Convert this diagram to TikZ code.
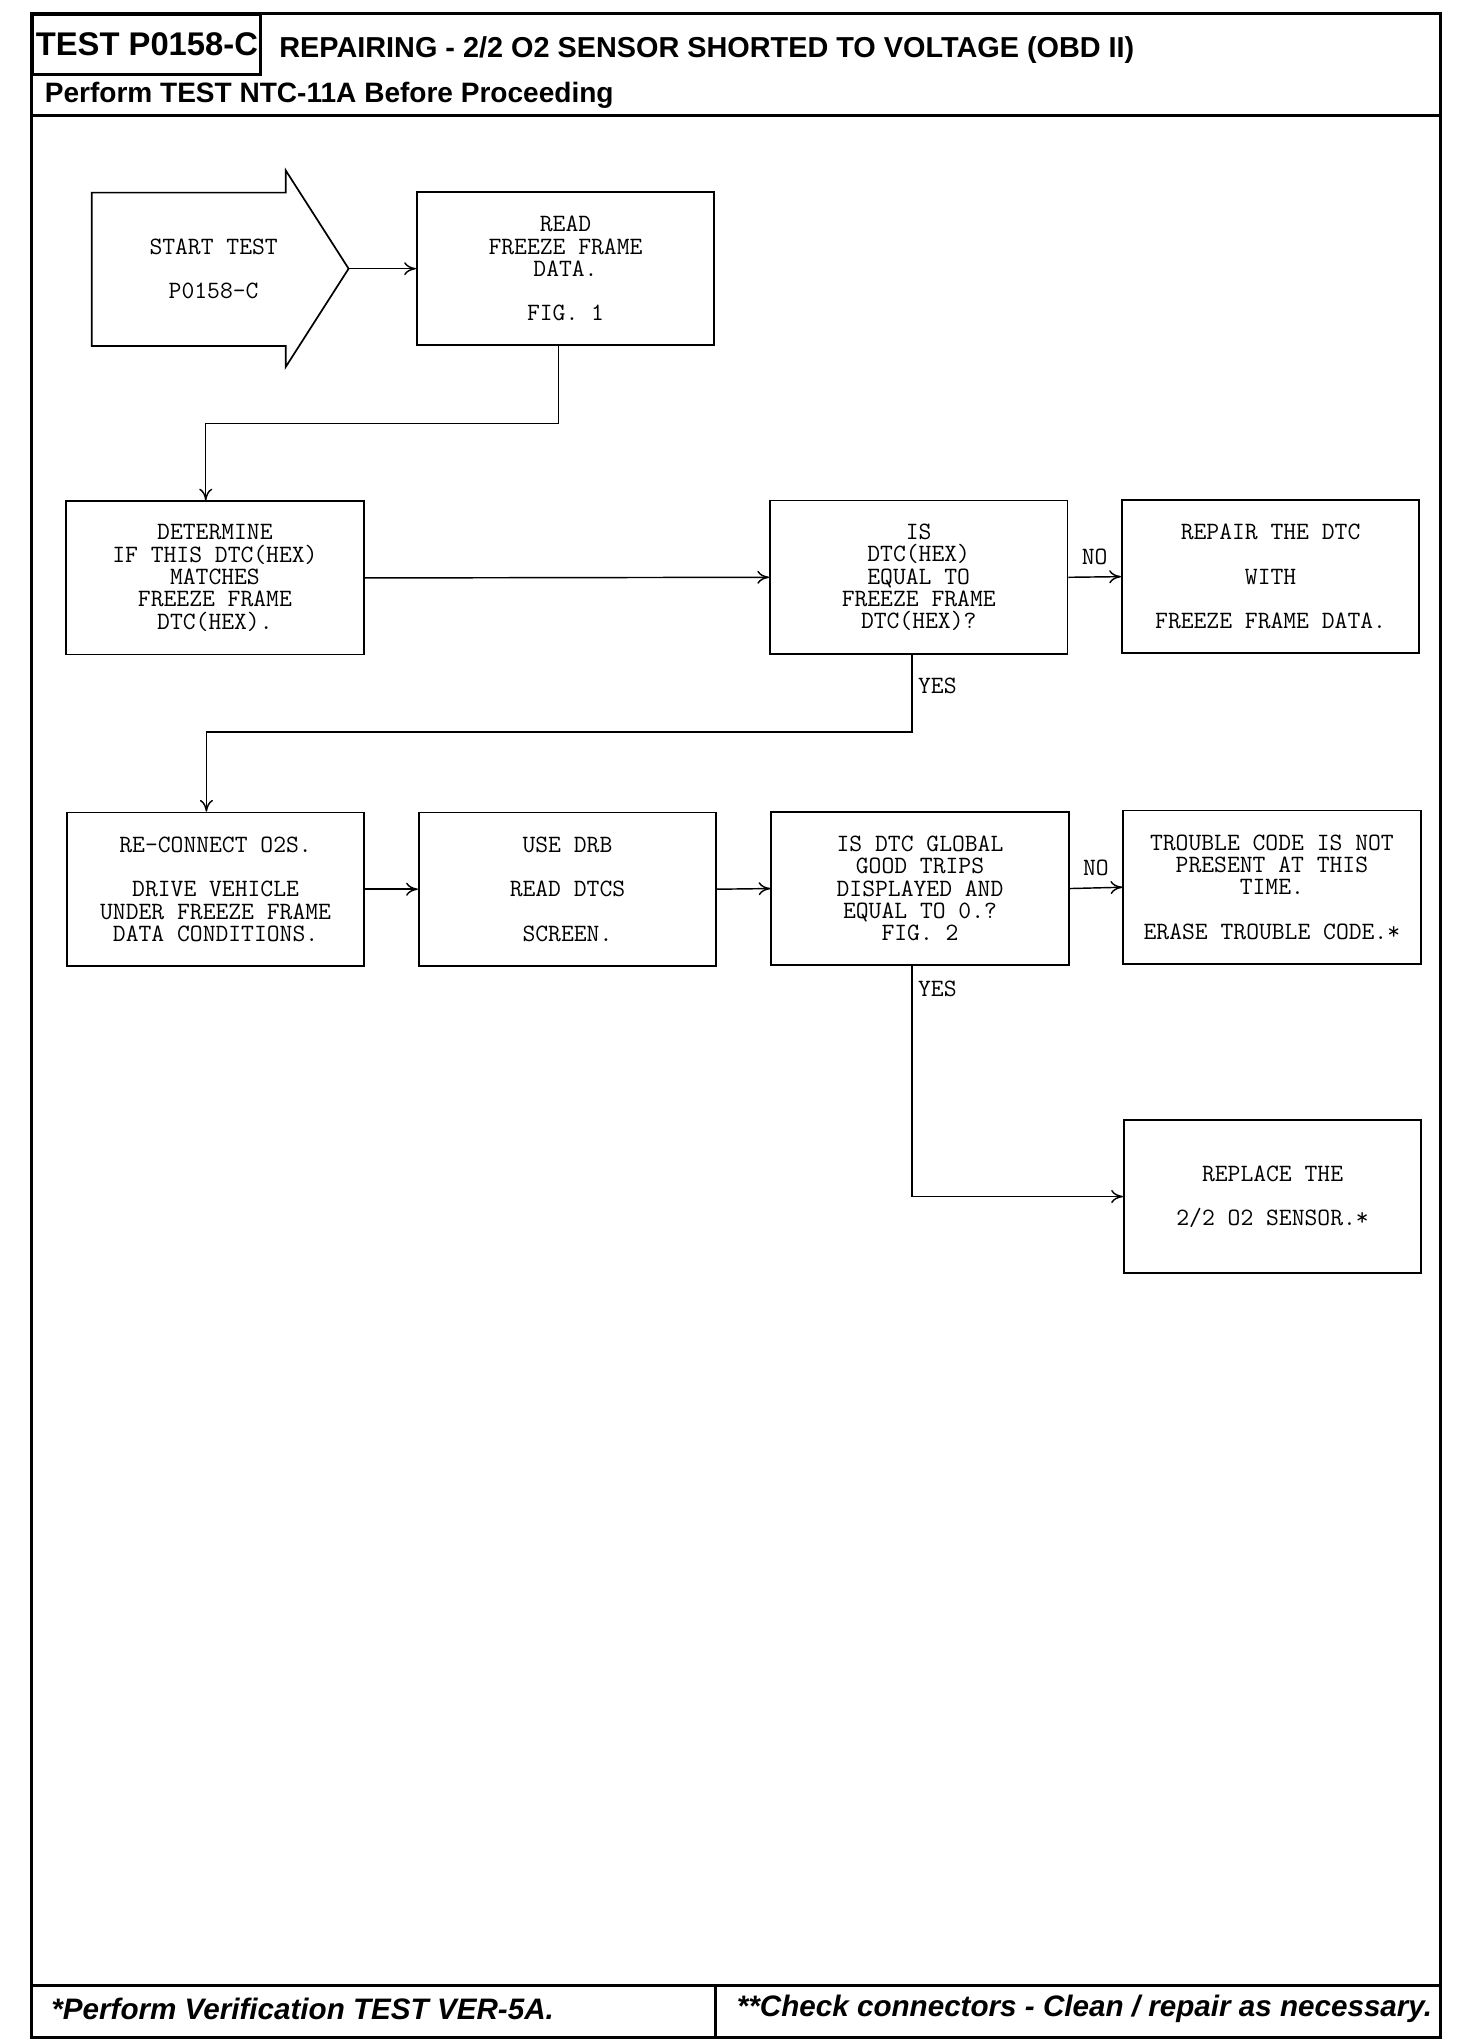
\documentclass[tikz,border=0pt]{standalone}
\usepackage{fontspec}
\usepackage{tikz}
\usetikzlibrary{arrows.meta}
\newfontfamily\headfont{Liberation Sans}

\begin{document}
\begin{tikzpicture}[x=1pt,y=-1pt,
  >={To[length=9pt,width=10pt]},
  box/.style={draw,line width=1.3pt,minimum width=227pt,minimum height=117pt,
    align=center,inner sep=0pt,font=\fontsize{19}{17}\ttfamily},
  lbl/.style={align=center,inner sep=2pt,font=\fontsize{19}{17}\ttfamily},
  flow/.style={line width=1.1pt,->},
  frame/.style={line width=2.2pt},
  head/.style={anchor=west,inner sep=0pt,font=\headfont\bfseries\fontsize{21.4}{24}\selectfont},
  foot/.style={inner sep=0pt,font=\headfont\bfseries\itshape\fontsize{22.6}{26}\selectfont}]
\useasboundingbox (0,0) rectangle (1123.2,1556.6);

% page frame
\draw[frame] (24,10) rectangle (1099,1555);
\draw[frame] (24,88) -- (1099,88);
\draw[frame] (24,1515) -- (1099,1515);
\draw[frame] (546,1515) -- (546,1555);
\node[draw,frame,anchor=north west,minimum width=174pt,minimum height=46pt,inner sep=0pt,
  font=\headfont\bfseries\fontsize{25}{28}\selectfont] (testno) at (24,10) {TEST P0158-C};
\node[head,font=\headfont\bfseries\fontsize{22}{24}\selectfont] (title) at (213,38) {REPAIRING - 2/2 O2 SENSOR SHORTED TO VOLTAGE (OBD II)};
\node[head] (pretest) at (34,73) {Perform TEST NTC-11A Before Proceeding};
\node[foot,anchor=west] (verify) at (39,1533) {*Perform Verification TEST VER-5A.};
\node[foot,anchor=east] (check) at (1093,1533) {**Check connectors - Clean / repair as necessary.};

% start arrow
\draw[line width=1.3pt] (70,147) -- (218,147) -- (218,130) -- (266,205) -- (218,280)
  -- (218,264) -- (70,264) -- cycle;
\coordinate (tip) at (266,205);
\node[lbl] (start) at (163,205) {START TEST\\[17pt]P0158-C};

% boxes
\node[box] (read) at (431.5,205) {READ\\FREEZE FRAME\\DATA.\\[17pt]FIG. 1};
\node[box] (determine) at (164,441) {DETERMINE\\IF THIS DTC(HEX)\\MATCHES\\FREEZE FRAME\\DTC(HEX).};
\node[box] (isequal) at (701,440.5) {IS\\DTC(HEX)\\EQUAL TO\\FREEZE FRAME\\DTC(HEX)?};
\node[box] (repair) at (969.5,440) {REPAIR THE DTC\\[17pt]WITH\\[17pt]FREEZE FRAME DATA.};
\node[box] (reconnect) at (164.5,678.5) {RE-CONNECT O2S.\\[17pt]DRIVE VEHICLE\\UNDER FREEZE FRAME\\DATA CONDITIONS.};
\node[box] (usedrb) at (433,678.5) {USE DRB\\[17pt]READ DTCS\\[17pt]SCREEN.};
\node[box] (goodtrips) at (702,678) {IS DTC GLOBAL\\GOOD TRIPS\\DISPLAYED AND\\EQUAL TO 0.?\\FIG. 2};
\node[box] (notpresent) at (970.5,677) {TROUBLE CODE IS NOT\\PRESENT AT THIS\\TIME.\\[17pt]ERASE TROUBLE CODE.*};
\node[box] (replace) at (971,913) {REPLACE THE\\[17pt]2/2 O2 SENSOR.*};

% connectors
\draw[flow] (tip) -- (read.west);
\draw[flow] ([xshift=-5.5pt]read.south) -- ++(0,59) -| ([xshift=-7pt]determine.north);
\draw[flow] (determine.east) -- (isequal.west);
\draw[flow] (isequal.east) -- node[lbl,above=7pt] {NO} (repair.west);
\draw[flow] ([xshift=-5pt]isequal.south) -- node[lbl,pos=0.4,right=2pt] {YES} ++(0,59)
  -| ([xshift=-7pt]reconnect.north);
\draw[flow] (reconnect.east) -- (usedrb.west);
\draw[flow] (usedrb.east) -- (goodtrips.west);
\draw[flow] (goodtrips.east) -- node[lbl,above=7pt] {NO} (notpresent.west);
\draw[flow] ([xshift=-6pt]goodtrips.south) |- node[lbl,pos=0.05,right=2pt] {YES} (replace.west);
\end{tikzpicture}
\end{document}
